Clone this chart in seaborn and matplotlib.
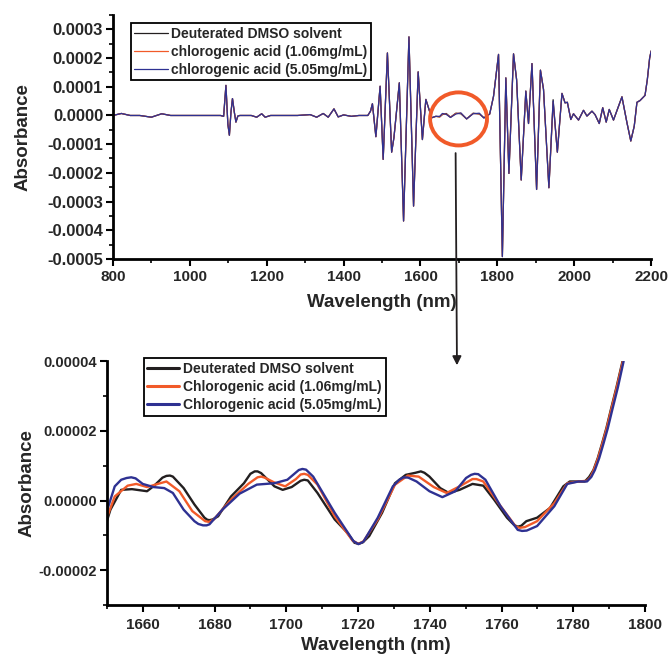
#!/usr/bin/env python
"""
NIR difference spectra: deuterated DMSO vs chlorogenic acid solutions.
Top: full range, bottom: zoom of the circled 1650-1800 nm window.
"""

import matplotlib
matplotlib.use("Agg")
import matplotlib.pyplot as plt
from matplotlib.patches import Ellipse, FancyArrowPatch
from matplotlib.ticker import FormatStrFormatter, MultipleLocator
import pandas as pd
import seaborn as sns

# ==========
# DATA
# ==========

series_names = ["Deuterated DMSO solvent",
                "chlorogenic acid (1.06mg/mL)",
                "chlorogenic acid (5.05mg/mL)"]
zoom_names = ["Deuterated DMSO solvent",
              "Chlorogenic acid (1.06mg/mL)",
              "Chlorogenic acid (5.05mg/mL)"]
line_colors = ["#231f20", "#f15a29", "#2e3192"]

# full spectrum, absorbance in units of 1e-4
top_wavelength = [800, 822, 845, 870, 900, 927, 950, 1000, 1050, 1080, 1088,
                  1094, 1099, 1103, 1107, 1111, 1116, 1120, 1125, 1130, 1160,
                  1174, 1187, 1196, 1210, 1280, 1313, 1330, 1347, 1360, 1375,
                  1386, 1400, 1420, 1440, 1463, 1470, 1475, 1484, 1495, 1503,
                  1514, 1525, 1531, 1545, 1556, 1570, 1582, 1594, 1605, 1614,
                  1629, 1640, 1650, 1657, 1667, 1678, 1692, 1705, 1720, 1737,
                  1753, 1765, 1780, 1790, 1803, 1813, 1822, 1830, 1842, 1850,
                  1862, 1874, 1881, 1890, 1902, 1912, 1920, 1934, 1945, 1956,
                  1968, 1976, 1982, 1991, 1998, 2011, 2024, 2033, 2046, 2054,
                  2065, 2074, 2083, 2091, 2102, 2124, 2137, 2147, 2156, 2163,
                  2171, 2184, 2190, 2196, 2200]
top_dmso = [0.0, 0.07, 0.0, 0.0, -0.06, 0.06, 0.0, 0.0, 0.0, 0.0, -0.03,
            1.05, -0.3, -0.69, 0.1, 0.59, 0.1, -0.23, -0.02, 0.0, 0.0,
            -0.06, 0.06, -0.06, 0.0, 0.0, 0.03, -0.06, 0.07, -0.06, 0.23,
            -0.05, 0.02, -0.03, 0.0, 0.0, 0.15, 0.41, -0.74, 1.02, -1.53,
            2.18, -1.28, -0.77, 1.14, -3.68, 2.74, -3.16, 1.52, -0.84, 0.56,
            -0.08, -0.03, -0.05, 0.03, 0.07, -0.06, 0.08, 0.06, -0.12, 0.08,
            0.05, -0.08, 0.05, 0.67, 2.13, -4.92, 1.31, -2.02, 2.15, 1.25,
            -2.25, 0.85, -0.28, 1.81, -2.58, 1.58, 0.91, -2.52, 0.55, -1.28,
            0.77, 0.44, 0.46, -0.14, 0.06, -0.16, 0.18, -0.02, 0.15, 0.03,
            -0.28, 0.27, -0.23, 0.21, -0.16, 0.65, -0.25, -0.89, -0.37, 0.46,
            0.52, 0.70, 1.25, 2.0, 2.25]
top_cga_106 = [0.0, 0.07, 0.0, 0.0, -0.06, 0.06, 0.0, 0.0, 0.0, 0.0, -0.03,
               1.05, -0.3, -0.69, 0.1, 0.59, 0.1, -0.23, -0.02, 0.0, 0.0,
               -0.06, 0.06, -0.06, 0.0, 0.0, 0.03, -0.06, 0.07, -0.06, 0.23,
               -0.05, 0.02, -0.03, 0.0, 0.0, 0.15, 0.41, -0.74, 1.02, -1.53,
               2.18, -1.28, -0.77, 1.14, -3.68, 2.74, -3.16, 1.52, -0.84, 0.56,
               -0.08, -0.03, -0.05, 0.05, 0.05, -0.06, 0.07, 0.08, -0.12, 0.07,
               0.06, -0.08, 0.05, 0.67, 2.13, -4.92, 1.31, -2.02, 2.15, 1.25,
               -2.25, 0.85, -0.28, 1.81, -2.58, 1.58, 0.91, -2.52, 0.45, -1.28,
               0.77, 0.44, 0.46, -0.14, 0.06, -0.16, 0.18, -0.02, 0.15, 0.03,
               -0.28, 0.27, -0.23, 0.21, -0.16, 0.65, -0.25, -0.89, -0.37, 0.46,
               0.52, 0.70, 1.25, 2.0, 2.25]
top_cga_505 = [0.0, 0.07, 0.0, 0.0, -0.06, 0.06, 0.0, 0.0, 0.0, 0.0, -0.03,
               1.05, -0.3, -0.69, 0.1, 0.59, 0.1, -0.23, -0.02, 0.0, 0.0,
               -0.06, 0.06, -0.06, 0.0, 0.0, 0.03, -0.06, 0.07, -0.06, 0.23,
               -0.05, 0.02, -0.03, 0.0, 0.0, 0.15, 0.41, -0.74, 1.02, -1.53,
               2.18, -1.28, -0.77, 1.14, -3.68, 2.74, -3.16, 1.52, -0.84, 0.56,
               -0.08, -0.03, -0.03, 0.07, 0.04, -0.07, 0.05, 0.09, -0.12, 0.06,
               0.08, -0.09, 0.05, 0.67, 2.13, -4.92, 1.31, -2.02, 2.15, 1.25,
               -2.25, 0.85, -0.28, 1.81, -2.58, 1.58, 0.91, -2.52, 0.50, -1.28,
               0.77, 0.44, 0.46, -0.14, 0.06, -0.16, 0.18, -0.02, 0.15, 0.03,
               -0.28, 0.27, -0.23, 0.21, -0.16, 0.65, -0.25, -0.89, -0.37, 0.46,
               0.52, 0.70, 1.25, 2.0, 2.25]

# zoomed window, absorbance in units of 1e-5
zoom_dmso_wl = [1650, 1651, 1654, 1657, 1661.2, 1663.2, 1665.5, 1666.6, 1667.6,
                1668.4, 1671.4, 1674.4, 1677.2, 1678, 1678.6, 1679.5, 1681,
                1684.6, 1688.2, 1690, 1691.2, 1692, 1693, 1696.7, 1699, 1701.5,
                1704, 1705, 1706, 1708.7, 1713.5, 1717, 1719, 1720.1, 1721.3,
                1723.1, 1726.7, 1730.3, 1733.3, 1736, 1737.5, 1738.5, 1739.9,
                1742.9, 1745.3, 1748.3, 1751.9, 1754.9, 1757.9, 1761.5, 1763.5,
                1764.5, 1765.5, 1766.9, 1769.9, 1773.5, 1777.2, 1779, 1780.8,
                1783.2, 1784.4, 1785.6, 1786.8, 1788, 1789.2, 1790.4, 1792,
                1793.7]
zoom_dmso = [-0.59, -0.26, 0.31, 0.33, 0.27, 0.43, 0.66, 0.71, 0.72,
             0.69, 0.36, -0.11, -0.49, -0.55, -0.56, -0.54, -0.45,
             0.12, 0.50, 0.77, 0.84, 0.84, 0.79, 0.41, 0.31, 0.39,
             0.57, 0.60, 0.58, 0.22, -0.54, -0.92, -1.21, -1.24, -1.20,
             -1.02, -0.35, 0.50, 0.74, 0.80, 0.84, 0.80, 0.69,
             0.36, 0.22, 0.31, 0.48, 0.43, 0.03, -0.49, -0.70,
             -0.75, -0.72, -0.59, -0.49, -0.21, 0.41, 0.55, 0.55,
             0.55, 0.68, 0.88, 1.22, 1.64, 2.08, 2.59, 3.25,
             4.0]
zoom_cga_106_wl = [1650, 1652.2, 1655.8, 1658.2, 1661.2, 1664.2, 1666.6, 1670.2,
                   1673.8, 1677.4, 1678.5, 1679.8, 1684.6, 1689.4, 1692, 1693,
                   1694, 1696.7, 1699.7, 1702.7, 1704, 1705, 1706, 1708.7,
                   1713.5, 1718.5, 1720.1, 1721.5, 1725.5, 1730.3, 1733.9,
                   1736.9, 1741.1, 1744.7, 1748.3, 1751.9, 1753, 1754.9,
                   1759.1, 1764, 1765.1, 1766.5, 1769.9, 1774.7, 1778.3,
                   1781.4, 1783.8, 1784.8, 1785.7, 1786.9, 1788.1, 1789.3,
                   1790.5, 1792.1, 1793.8]
zoom_cga_106 = [-0.49, 0.12, 0.43, 0.48, 0.39, 0.48, 0.55, 0.27,
                -0.30, -0.59, -0.61, -0.54, 0.03, 0.48, 0.67, 0.69,
                0.66, 0.52, 0.41, 0.62, 0.75, 0.77, 0.74, 0.46,
                -0.45, -1.15, -1.24, -1.17, -0.54, 0.46, 0.72,
                0.69, 0.39, 0.22, 0.41, 0.62, 0.62, 0.55,
                -0.07, -0.75, -0.78, -0.76, -0.59, -0.07, 0.50,
                0.55, 0.57, 0.68, 0.88, 1.22, 1.64, 2.08,
                2.59, 3.25, 4.0]
zoom_cga_505_wl = [1650, 1652.2, 1654, 1655.5, 1656.8, 1658, 1660, 1663, 1666,
                   1668.4, 1671.4, 1674.4, 1675.5, 1676.8, 1677.8, 1678.6,
                   1682.2, 1687, 1691.8, 1696.7, 1700.3, 1703.5, 1704.5,
                   1705.5, 1707.5, 1713.5, 1718.7, 1720.1, 1721.5, 1725.5,
                   1729.7, 1731.5, 1732.7, 1734, 1736.3, 1739.9, 1743.5,
                   1747.1, 1750.1, 1751.5, 1752.5, 1753.5, 1755.5, 1759.7,
                   1764.5, 1765.7, 1767, 1769.9, 1774.7, 1778.3, 1781.4,
                   1783.8, 1785, 1786, 1787.2, 1788.4, 1789.6, 1790.8,
                   1792.4, 1794]
zoom_cga_505 = [-0.30, 0.41, 0.60, 0.65, 0.67, 0.64, 0.48, 0.39, 0.36,
                0.22, -0.26, -0.59, -0.67, -0.71, -0.71, -0.68,
                -0.26, 0.20, 0.46, 0.50, 0.60, 0.88, 0.91,
                0.89, 0.69, -0.35, -1.16, -1.25, -1.18, -0.49,
                0.41, 0.60, 0.67, 0.66, 0.55, 0.27, 0.10,
                0.27, 0.65, 0.74, 0.77, 0.76, 0.60, -0.16,
                -0.84, -0.87, -0.86, -0.73, -0.16, 0.48, 0.55,
                0.55, 0.68, 0.88, 1.22, 1.64, 2.08, 2.59,
                3.25, 4.0]

top_yticks = [0.0003, 0.0002, 0.0001, 0.0, -0.0001, -0.0002, -0.0003,
              -0.0004, -0.0005]
zoom_yticks = [0.00004, 0.00002, 0.0, -0.00002]


def build_frame(xs, ys, names, scale):
    frames = []
    for x, y, name in zip(xs, ys, names):
        frames.append(pd.DataFrame({"wavelength": x,
                                    "absorbance": [v * scale for v in y],
                                    "series": name}))
    return pd.concat(frames, ignore_index=True)


def style_axes(ax, xlabel_pad, ylabel_pad, tick_size, ytick_size, xtick_pad):
    sns.despine(ax=ax)
    for side in ["left", "bottom"]:
        ax.spines[side].set_linewidth(2.0)
        ax.spines[side].set_color("black")
    ax.tick_params(which="major", direction="out", length=5, width=1.5,
                   color="black", pad=2)
    ax.tick_params(which="minor", direction="out", length=3, width=1.2,
                   color="black")
    ax.tick_params(axis="x", labelsize=tick_size, pad=xtick_pad)
    ax.tick_params(axis="y", labelsize=ytick_size)
    ax.set_xlabel("Wavelength (nm)", fontsize=13.5, fontweight="bold",
                  labelpad=xlabel_pad)
    ax.set_ylabel("Absorbance", fontsize=13.5, fontweight="bold",
                  labelpad=ylabel_pad)


# ==========
# PLOT
# ==========

sns.set_style("ticks")
plt.rcParams["font.family"] = ["Liberation Sans", "DejaVu Sans"]
plt.rcParams["font.weight"] = "bold"
plt.rcParams["axes.labelweight"] = "bold"

fig = plt.figure(figsize=(6.72, 6.57), dpi=100)
ax_top = fig.add_axes([0.168, 0.606, 0.801, 0.371])
ax_bot = fig.add_axes([0.159, 0.079, 0.801, 0.371])

top_df = build_frame([top_wavelength] * 3,
                     [top_dmso, top_cga_106, top_cga_505],
                     series_names, 1e-4)
sns.lineplot(data=top_df, x="wavelength", y="absorbance", hue="series",
             hue_order=series_names, palette=line_colors, linewidth=0.9,
             estimator=None, sort=False, ax=ax_top)

zoom_df = build_frame([zoom_dmso_wl, zoom_cga_106_wl, zoom_cga_505_wl],
                      [zoom_dmso, zoom_cga_106, zoom_cga_505],
                      zoom_names, 1e-5)
sns.lineplot(data=zoom_df, x="wavelength", y="absorbance", hue="series",
             hue_order=zoom_names, palette=line_colors, linewidth=1.7,
             estimator=None, sort=False, ax=ax_bot)

# top axes
ax_top.set_xlim(800, 2200)
ax_top.set_ylim(-0.0005, 0.00035)
ax_top.set_xticks([800, 1000, 1200, 1400, 1600, 1800, 2000, 2200])
ax_top.xaxis.set_minor_locator(MultipleLocator(100))
ax_top.set_yticks(top_yticks)
ax_top.yaxis.set_minor_locator(MultipleLocator(0.00005))
ax_top.yaxis.set_major_formatter(FormatStrFormatter("%.4f"))
style_axes(ax_top, 7, 11, 11, 12, 3)

leg = ax_top.legend(loc="upper left", bbox_to_anchor=(0.0335, 0.967),
                    borderaxespad=0, fontsize=10, handlelength=2.4,
                    handletextpad=0.25, labelspacing=0.3, borderpad=0.25,
                    fancybox=False, framealpha=1, edgecolor="black",
                    title=None)
leg.get_frame().set_linewidth(1.3)
for text in leg.get_texts():
    text.set_fontweight("bold")

ax_top.add_patch(Ellipse((1699, -0.000012), 148, 0.000185, fill=False,
                         edgecolor="#f15a29", linewidth=2.8, clip_on=False,
                         zorder=5))

# bottom axes
ax_bot.set_xlim(1650, 1800)
ax_bot.set_ylim(-0.00003, 0.00004)
ax_bot.set_xticks([1660, 1680, 1700, 1720, 1740, 1760, 1780, 1800])
ax_bot.xaxis.set_minor_locator(MultipleLocator(10))
ax_bot.set_yticks(zoom_yticks)
ax_bot.yaxis.set_minor_locator(MultipleLocator(0.00001))
ax_bot.yaxis.set_major_formatter(FormatStrFormatter("%.5f"))
style_axes(ax_bot, 4, 2, 11, 10.5, 4)

leg2 = ax_bot.legend(loc="upper left", bbox_to_anchor=(0.0688, 1.012),
                     borderaxespad=0, fontsize=10, handlelength=2.3,
                     handletextpad=0.3, labelspacing=0.3, borderpad=0.25,
                     fancybox=False, framealpha=1, edgecolor="black",
                     title=None)
leg2.get_frame().set_linewidth(1.3)
for line in leg2.get_lines():
    line.set_linewidth(2.2)
for text in leg2.get_texts():
    text.set_fontweight("bold")

# arrow from the circled region down to the zoom
fig.add_artist(FancyArrowPatch((0.678, 0.767), (0.680, 0.444),
                               transform=fig.transFigure, arrowstyle="-|>",
                               mutation_scale=13, linewidth=1.3,
                               color="#231f20", shrinkA=0, shrinkB=0))

fig.savefig("out.png", dpi=100)
